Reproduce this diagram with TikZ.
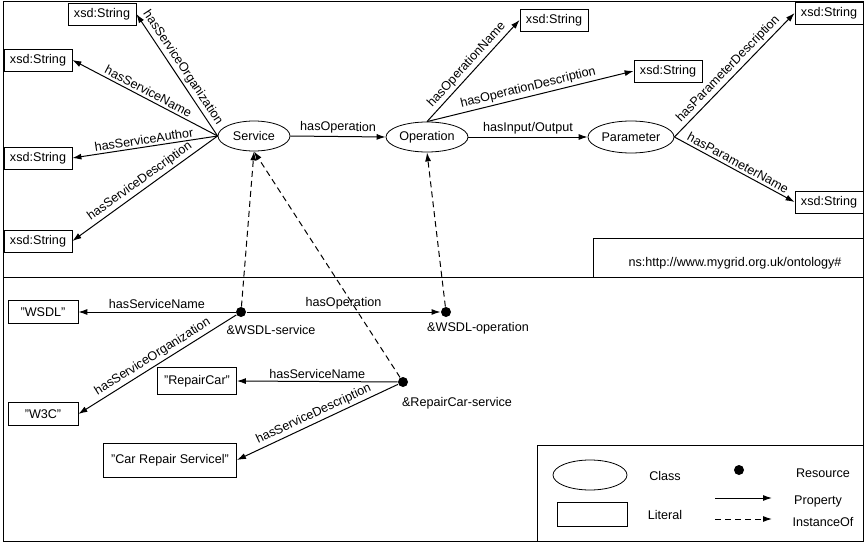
\documentclass[tikz,border=0pt]{standalone}
\usepackage{fontspec}
\setmainfont{Liberation Sans}
\usetikzlibrary{shapes.geometric,arrows.meta}
\newcommand\dfont{\fontsize{12.6}{14}\selectfont}
\begin{document}
\begin{tikzpicture}[x=1pt,y=-1pt,line width=1pt,
 lit/.style={draw, line width=0.8pt, minimum height=22, minimum width=68, inner xsep=4, font=\dfont},
 cls/.style={draw, line width=0.8pt, ellipse, minimum height=30, inner sep=1, font=\dfont},
 res/.style={circle, fill, inner sep=0, minimum size=10},
 prop/.style={draw, -{Latex[length=9,width=6]}},
 inst/.style={prop, dash pattern=on 6pt off 4pt},
 lab/.style={font=\dfont, sloped, above, inner sep=2.5},
 txt/.style={font=\dfont, inner sep=1},
]
\useasboundingbox (0,0) rectangle (865,543);
% frame
\draw (3,2) rectangle (863,541);
\draw (3,277) -- (863,277);
% top: classes
\node[cls, minimum width=72] (svc) at (254,136) {Service};
\node[cls, minimum width=82] (op) at (427,137) {Operation};
\node[cls, minimum width=84, minimum height=32] (par) at (631,137) {Parameter};
% literals
\node[lit] (b1) at (102,14) {xsd:String};
\node[lit] (b2) at (38,60) {xsd:String};
\node[lit] (b3) at (38,158) {xsd:String};
\node[lit] (b4) at (38,241) {xsd:String};
\node[lit] (t1) at (554,20) {xsd:String};
\node[lit] (t2) at (668,71) {xsd:String};
\node[lit] (p1) at (829,13) {xsd:String};
\node[lit] (p2) at (829,202) {xsd:String};
% top edges
\draw[prop] (svc.west) -- node[lab, pos=0.52]{hasServiceOrganization} (b1.east);
\draw[prop] (svc.west) -- node[lab]{hasServiceName} (b2.east);
\draw[prop] (svc.west) -- node[lab]{hasServiceAuthor} (b3.east);
\draw[prop] (svc.west) -- node[lab]{hasServiceDescription} (b4.east);
\draw[prop] (svc.east) -- node[lab]{hasOperation} (op.west);
\draw[prop] (op.north) -- node[lab]{hasOperationName} (t1.west);
\draw[prop] (op.north) -- node[lab]{hasOperationDescription} (t2.west);
\draw[prop] (op.east) -- node[lab]{hasInput/Output} (par.west);
\draw[prop] (par.east) -- node[lab]{hasParameterDescription} (p1.west);
\draw[prop] (par.east) -- node[lab]{hasParameterName} (p2.west);
% namespace box
\draw (593,277) -- (593,238) -- (863,238);
\node[txt] (ns) at (735,263) {ns:http://www.mygrid.org.uk/ontology\#};
% bottom: resources
\node[res] (ws) at (241,312) {};
\node[res] (wo) at (446,312) {};
\node[res] (rc) at (403,382) {};
\node[txt] (wsl) at (271,330) {\&WSDL-service};
\node[txt] (wol) at (478,328) {\&WSDL-operation};
\node[txt] (rcl) at (457,403) {\&RepairCar-service};
\node[lit, minimum width=70, minimum height=23] (lw) at (43,312) {"WSDL"};
\node[lit, minimum width=70, minimum height=23] (l3) at (43,414) {"W3C"};
\node[lit, minimum width=79, minimum height=27] (lr) at (197,381) {"RepairCar"};
\node[lit, minimum width=133, minimum height=34] (lc) at (170,460) {"Car Repair Servicel"};
\draw[prop] (ws) -- node[lab]{hasServiceName} (lw.east);
\draw[prop] (ws) -- node[lab]{hasServiceOrganization} (l3.east);
\draw[prop] (ws) -- node[lab]{hasOperation} (wo);
\draw[prop] (rc) -- node[lab]{hasServiceName} (lr.east);
\draw[prop] (rc) -- node[lab]{hasServiceDescription} (lc.east);
% instance-of
\draw[inst] (ws) -- (svc.south);
\draw[inst] (rc) -- (svc.south);
\draw[inst] (wo) -- (op.south);
% legend
\draw (537,541) -- (537,445) -- (863,445);
\node[cls, minimum width=74, minimum height=30] (kc) at (590,475) {};
\node[txt] (kct) at (665,476) {Class};
\node[lit, minimum width=70, minimum height=24] (kl) at (592,514) {};
\node[txt] (klt) at (665,515) {Literal};
\node[res] (kr) at (739,470) {};
\node[txt] (krt) at (823,473) {Resource};
\coordinate (pa) at (715,498);
\coordinate (pb) at (772,498);
\draw[prop] (pa) -- (pb);
\node[txt] (kpt) at (818,501) {Property};
\coordinate (ia) at (715,519);
\coordinate (ib) at (772,519);
\draw[inst] (ia) -- (ib);
\node[txt] (kit) at (823,522) {InstanceOf};
\end{tikzpicture}
\end{document}
